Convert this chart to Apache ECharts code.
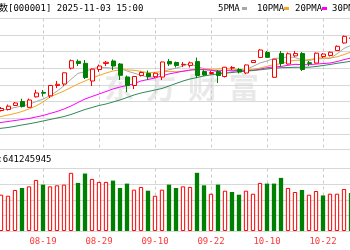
<!DOCTYPE html>
<html><head><meta charset="utf-8">
<script src="https://cdn.jsdelivr.net/npm/echarts@6/dist/echarts.min.js"></script>
<style>html,body{margin:0;padding:0;background:#fff;overflow:hidden;width:350px;height:250px;position:relative}#c{position:absolute;left:-20px;top:0;width:410px;height:250px}</style>
</head><body><div id="c"></div>
<script>
const dates = ['08-07','08-08','08-11','08-12','08-13','08-14','08-15','08-18','08-19','08-20','08-21','08-22','08-25','08-26','08-27','08-28','08-29',
'09-01','09-02','09-03','09-04','09-05','09-08','09-09','09-10','09-11','09-12','09-15','09-16','09-17','09-18','09-19','09-22','09-23','09-24','09-25','09-26','09-29','09-30',
'10-09','10-10','10-13','10-14','10-15','10-16','10-17','10-20','10-21','10-22','10-23','10-24','10-27','10-28','10-29','10-30','10-31','11-03'];
const opens = [3635,3642,3648,3652.8,3671.7,3690.5,3663,3712.7,3733,3717.4,3766,3773,3847.7,3880.3,3870.8,3787.3,3841.6,3870,3881.7,3867.5,3806,3766,3813,3822.7,3807.6,3806,3879.3,3874.6,3864,3860.5,3879,3832,3822.7,3832,3808.5,3848.7,3841.6,3825,3874.6,3898,3921.8,3804.8,3917,3867.5,3906,3917,3873.7,3872,3903,3907.7,3931,3966.7,3988,3988,4005,3980,3950];
const closes = [3640,3635,3657.5,3668.4,3683.5,3667,3697.6,3730.7,3729.7,3766,3771.7,3826,3883,3870,3803.8,3843,3858,3875.6,3858,3814,3766,3808.5,3827.4,3808.5,3824,3877,3867.5,3860.5,3866,3873,3813,3815.6,3827.4,3813,3852.3,3851,3829.8,3863,3884,3933.6,3899,3889.7,3870,3915.6,3916.9,3841.6,3870,3918.5,3914.7,3923,3951,3998,3991,4016,3987,3955,3976];
const lows = [3625,3630,3643,3648,3669,3662,3660,3709,3714,3707,3754,3763.7,3841.6,3858,3796.7,3763.7,3830,3858,3839,3792,3735,3749.5,3808.5,3792,3801.5,3792,3858,3851,3853,3851,3801.5,3811,3818,3778,3804,3839,3822.7,3820,3872,3896,3896,3801.5,3858,3865,3901,3834.5,3858,3870,3896,3903,3929,3964,3981,3985,3975,3950,3940];
const highs = [3645,3645,3664.6,3676,3688,3703.8,3704.7,3746,3745,3768.4,3787.3,3827.4,3888.8,3888.8,3886.4,3846.3,3865,3881.7,3888.8,3872,3813,3811,3832,3837,3827,3879,3891,3879,3877,3879,3898,3839,3834.5,3839,3853.4,3858,3849,3865,3886.4,3938.3,3929,3891,3929,3922,3929,3924,3881.7,3922,3919,3926.5,3955,4002,3999.7,4025,4025,3990,3977];
const volumes = [650000000,630000000,697000000,677000000,788000000,826000000,857000000,981000000,890000000,857000000,877000000,890000000,1117000000,923000000,1103000000,1000000000,943000000,943000000,968000000,826000000,910000000,794000000,846000000,774000000,677000000,794000000,890000000,826000000,857000000,846000000,1117000000,877000000,716000000,890000000,774000000,749000000,697000000,774000000,716000000,923000000,910000000,910000000,1020000000,826000000,749000000,788000000,697000000,768000000,683000000,716000000,716000000,807000000,730000000,800000000,820000000,720000000,641245945];
const volUp = [1,0,1,1,1,0,1,1,0,1,1,1,1,0,0,1,1,1,0,0,0,1,1,0,1,1,0,0,1,1,0,0,1,0,1,0,0,1,1,1,0,0,0,1,1,0,1,1,0,1,1,1,0,1,0,0,1];
const ma5 = [3636.2,3641,3648,3655.1,3662.2,3669.3,3677,3690,3701.7,3718.2,3739.1,3764.8,3795.3,3823.3,3830.9,3845.2,3851.6,3850.1,3847.7,3849.7,3834.3,3824.4,3814.8,3804.9,3806.9,3829.1,3840.9,3847.5,3859,3868.8,3856,3845.6,3839,3828.4,3824.3,3831.9,3834.7,3841.8,3856,3872.3,3881.9,3893.9,3895.3,3901.6,3898.2,3886.8,3882.8,3892.5,3892.3,3893.6,3915.4,3941,3955.5,3975.8,'-','-','-'];
const ma10 = [3605.6,3612.6,3619.7,3626.8,3633.9,3643.3,3655.1,3669.3,3688.2,3711.8,3725.9,3740.1,3756.6,3773.1,3787.3,3801.4,3813.2,3825,3834.5,3840.3,3839.8,3838,3832.5,3826.3,3828.3,3831.7,3832.7,3831.2,3832,3837.9,3842.6,3843.3,3843.3,3843.7,3846.6,3844,3840.2,3840.4,3842.2,3848.3,3856.9,3864.3,3868.6,3878.8,3885.3,3884.4,3888.4,3893.9,3897,3895.9,3901.1,3911.9,3924,3934,'-','-','-'];
const ma20 = [3582,3586.7,3591.4,3596.1,3600.8,3605.6,3610.3,3617.4,3624.4,3633.9,3643.3,3655.1,3669.3,3685.8,3702.3,3714.1,3725.9,3737.7,3749.5,3759,3766,3774.1,3787.5,3794.4,3801.5,3812,3820.5,3827,3833.8,3839.1,3841.2,3840.7,3837.9,3835,3837.5,3837.9,3836.5,3835.8,3837.1,3843.1,3849.8,3853.8,3856,3861.3,3866,3864.2,3864.3,3867.2,3869.6,3872.1,3879,3888.1,3896.3,3906.4,'-','-','-'];
const ma30 = [3551.3,3558.4,3564,3567.8,3573.5,3579.6,3585.3,3591.4,3598.5,3605.6,3612.6,3619.7,3629.2,3641,3652.8,3662.2,3671.6,3678.7,3688.2,3697.6,3709.4,3721.2,3730.6,3737.7,3744.8,3751.9,3763.7,3775.5,3787.3,3796.7,3803.8,3810.9,3816.5,3820.3,3824.1,3827.4,3830.7,3833.5,3836.8,3840.1,3843.9,3847.2,3850.1,3851,3852,3852,3852.4,3855.7,3860.4,3865.2,3870.8,3875.5,3880.7,3886.4,'-','-','-'];
const titleText = '上证指数[000001] 2025-11-03 15:00';
const legendNames = ['5PMA','10PMA','20PMA','30PMA'];
const volLabel = '总手:641245945';
const watermarkChars = ['东','方','财','富'];

const FONT = "'DejaVu Sans Mono','Noto Sans CJK SC',monospace";
const RED = '#ff0000', GREEN = '#008000';
const maColors = ['#a8a8a8','#f5a623','#ff00ff','#2e8b57'];
const labelEvery = (i) => i % 8 === 0;
const OX = 20; // container is shifted 20px left of the window

const chart = echarts.init(document.getElementById('c'), null, {renderer:'canvas'});
const legendX = [218, 257, 295, 332];
const legendMarkX = [242, 284, 322, 360];
const wmX = [104, 146, 188, 229];
const graphic = [
  {type:'text', left:-28+OX, top:4, z:10, style:{text:titleText, font:'9px '+FONT, fill:'#000'}},
  {type:'text', left:-20.7+OX, top:155.5, z:10, style:{text:volLabel, font:'9px '+FONT, fill:'#000'}}
];
watermarkChars.forEach((ch,k)=>{
  graphic.push({type:'text', left:wmX[k]+OX, top:72, z:-1, silent:true, style:{text:ch, font:'bold 30px "Noto Sans CJK SC"', fill:'#e9e9e9'}});
});
legendNames.forEach((n,k)=>{
  graphic.push({type:'text', left:legendX[k]+OX, top:4, z:10, style:{text:n, font:'9px '+FONT, fill:'#000'}});
  graphic.push({type:'rect', left:legendMarkX[k]+OX, top:7, z:10, shape:{width:5, height:3}, style:{fill:maColors[k]}});
});

const maSeries = [ma5, ma10, ma20, ma30].map((d,k)=>({
  name: legendNames[k], type:'line', xAxisIndex:0, yAxisIndex:0, data:d, symbol:'none',
  lineStyle:{width:1, color:maColors[k]}, z:3
}));

chart.setOption({
  animation:false,
  backgroundColor:'#fff',
  graphic: graphic,
  grid:[
    {left:7, right:11, top:18.5, height:130.5, containLabel:false, outerBoundsMode:'none'},
    {left:7, right:11, top:168.5, height:62.5, containLabel:false, outerBoundsMode:'none'}
  ],
  xAxis:[
    {type:'category', gridIndex:0, data:dates, boundaryGap:false,
     axisLine:{show:false}, axisTick:{show:false}, axisLabel:{show:false},
     splitLine:{show:true, interval:labelEvery, lineStyle:{color:'#cccccc', type:[3,3], width:1}}},
    {type:'category', gridIndex:1, data:dates, boundaryGap:false,
     axisLine:{show:false}, axisTick:{show:false},
     axisLabel:{show:true, interval:labelEvery, color:'#ff3a3a', fontFamily:FONT, fontSize:9, margin:6, hideOverlap:false},
     splitLine:{show:true, interval:labelEvery, lineStyle:{color:'#cccccc', type:[3,3], width:1}}}
  ],
  yAxis:[
    {type:'value', gridIndex:0, min:3466.3, max:4082.3, show:false, splitLine:{show:false}},
    {type:'value', gridIndex:0, inverse:true, min:0, max:7.86, interval:1,
     axisLine:{show:false}, axisTick:{show:false}, axisLabel:{show:false},
     splitLine:{show:true, lineStyle:{color:'#d8d8d8', width:1}}},
    {type:'value', gridIndex:1, min:0, max:1200000000, interval:300000000,
     axisLine:{show:false}, axisTick:{show:false}, axisLabel:{show:false},
     splitLine:{show:true, lineStyle:{color:'#d8d8d8', width:1}}}
  ],
  series:[
    {type:'candlestick', xAxisIndex:0, yAxisIndex:0, barWidth:4.5, z:4,
     data: dates.map((d,i)=>[opens[i], closes[i], lows[i], highs[i]]),
     itemStyle:{color:'#ffffff', color0:GREEN, borderColor:RED, borderColor0:GREEN, borderWidth:1}},
    ...maSeries,
    {type:'bar', xAxisIndex:1, yAxisIndex:2, barWidth:4.3, z:4,
     data: volumes.map((v,i)=>({value:v, itemStyle: volUp[i] ? {color:'#ffffff', borderColor:RED, borderWidth:1} : {color:GREEN, borderWidth:0}}))}
  ]
});
</script></body></html>
